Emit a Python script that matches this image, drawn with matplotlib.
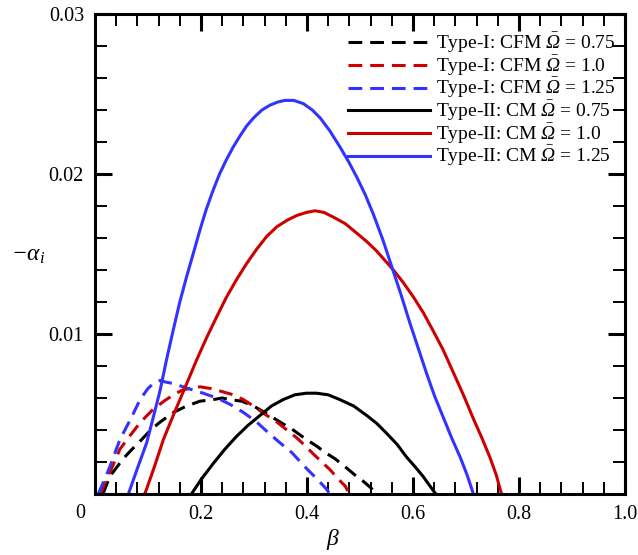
import matplotlib

matplotlib.use("Agg")
import matplotlib.pyplot as plt
from matplotlib.ticker import MultipleLocator

plt.rcParams["font.family"] = ["Liberation Serif", "DejaVu Serif"]
plt.rcParams["mathtext.fontset"] = "custom"
plt.rcParams["mathtext.rm"] = "Liberation Serif:italic"
plt.rcParams["mathtext.it"] = "Liberation Serif:italic"
plt.rcParams["mathtext.bf"] = "Liberation Serif:bold"
plt.rcParams["font.size"] = 14.5

# --- values (beta, -alpha_i) ---
# Type-I: CFM
beta_cfm_075 = [0.015, 0.028, 0.053, 0.070, 0.088, 0.105, 0.123, 0.148, 0.173,
                0.198, 0.223, 0.240, 0.255, 0.277, 0.299, 0.320, 0.349, 0.374,
                0.399, 0.418, 0.434, 0.453, 0.472, 0.490, 0.506, 0.520, 0.531]
ai_cfm_075 = [0.0, 0.0011, 0.0022, 0.0028, 0.0034, 0.0040, 0.0045, 0.0051, 0.0055,
              0.0058, 0.0059, 0.0060, 0.0059, 0.0058, 0.0055, 0.0051, 0.0045, 0.0040,
              0.0034, 0.0030, 0.0026, 0.0022, 0.0017, 0.0012, 0.0008, 0.0004, 0.0]

beta_cfm_100 = [0.010, 0.030, 0.047, 0.065, 0.079, 0.095, 0.110, 0.130, 0.148,
                0.165, 0.179, 0.198, 0.217, 0.240, 0.261, 0.280, 0.299, 0.320,
                0.343, 0.362, 0.381, 0.397, 0.412, 0.428, 0.444, 0.460, 0.472, 0.480]
ai_cfm_100 = [0.0, 0.0015, 0.0028, 0.0036, 0.0042, 0.0048, 0.0053, 0.0058, 0.0062,
              0.0065, 0.0066, 0.0067, 0.0066, 0.0064, 0.0062, 0.0059, 0.0055, 0.0050,
              0.0045, 0.0040, 0.0035, 0.0030, 0.0025, 0.0020, 0.0015, 0.0009, 0.0005,
              0.0]

beta_cfm_125 = [0.006, 0.018, 0.028, 0.047, 0.058, 0.069, 0.085, 0.100, 0.110,
                0.116, 0.123, 0.133, 0.148, 0.175, 0.204, 0.230, 0.255, 0.280,
                0.305, 0.328, 0.349, 0.371, 0.399, 0.420, 0.437, 0.443]
ai_cfm_125 = [0.0, 0.0009, 0.0017, 0.0034, 0.0041, 0.0048, 0.0059, 0.0066, 0.0069,
              0.0070, 0.0071, 0.0070, 0.0069, 0.0066, 0.0063, 0.0060, 0.0056, 0.0051,
              0.0045, 0.0038, 0.0032, 0.0026, 0.0016, 0.0009, 0.0003, 0.0]

# Type-II: CM
beta_cm_075 = [0.182, 0.200, 0.223, 0.245, 0.267, 0.289, 0.311, 0.333, 0.355,
               0.377, 0.399, 0.418, 0.440, 0.462, 0.488, 0.513, 0.532, 0.550,
               0.570, 0.588, 0.604, 0.619, 0.632, 0.643]
ai_cm_075 = [0.0, 0.0009, 0.0019, 0.0028, 0.0036, 0.0043, 0.0049, 0.0055, 0.0059,
             0.0062, 0.0063, 0.0063, 0.0062, 0.0059, 0.0055, 0.0049, 0.0044, 0.0038,
             0.0031, 0.0023, 0.0017, 0.0011, 0.0005, 0.0]

beta_cm_100 = [0.094, 0.111, 0.129, 0.150, 0.173, 0.192, 0.211, 0.230, 0.248,
               0.267, 0.286, 0.305, 0.324, 0.343, 0.362, 0.380, 0.399, 0.415,
               0.432, 0.450, 0.472, 0.494, 0.512, 0.531, 0.547, 0.563, 0.582,
               0.601, 0.620, 0.638, 0.657, 0.676, 0.695, 0.714, 0.730, 0.745,
               0.757, 0.767]
ai_cm_100 = [0.0, 0.0016, 0.0034, 0.0051, 0.0069, 0.0084, 0.0098, 0.0111, 0.0123,
             0.0134, 0.0144, 0.0153, 0.0161, 0.0167, 0.0171, 0.0174, 0.0176, 0.0177,
             0.0176, 0.0173, 0.0169, 0.0163, 0.0158, 0.0152, 0.0146, 0.0140, 0.0132,
             0.0123, 0.0113, 0.0102, 0.0090, 0.0076, 0.0062, 0.0047, 0.0035, 0.0023,
             0.0012, 0.0]

beta_cm_125 = [0.063, 0.080, 0.0975, 0.110, 0.123, 0.135, 0.148, 0.160, 0.173,
               0.186, 0.198, 0.210, 0.223, 0.235, 0.248, 0.261, 0.274, 0.286,
               0.299, 0.315, 0.330, 0.345, 0.358, 0.375, 0.393, 0.410, 0.425,
               0.443, 0.462, 0.478, 0.494, 0.510, 0.525, 0.543, 0.560, 0.577,
               0.594, 0.610, 0.626, 0.641, 0.657, 0.673, 0.689, 0.702, 0.714]
ai_cm_125 = [0.0, 0.0016, 0.0032, 0.0048, 0.0065, 0.0084, 0.0103, 0.0120, 0.0136,
             0.0151, 0.0165, 0.0178, 0.0190, 0.0200, 0.0209, 0.0217, 0.0224, 0.0230,
             0.0235, 0.0240, 0.0243, 0.0245, 0.0246, 0.0246, 0.0244, 0.0240, 0.0235,
             0.0227, 0.0217, 0.0208, 0.0198, 0.0187, 0.0175, 0.0159, 0.0142, 0.0125,
             0.0107, 0.0091, 0.0075, 0.0061, 0.0048, 0.0035, 0.0023, 0.0012, 0.0]

x_ticks = [0.2, 0.4, 0.6, 0.8, 1.0]
x_ticklabels = ["0.2", "0.4", "0.6", "0.8", "1.0"]
y_ticks = [0.01, 0.02, 0.03]
y_ticklabels = ["0.01", "0.02", "0.03"]

BLACK = "#000000"
RED = "#cc0000"
BLUE = "#3333ff"
OM = r"$\bar{\Omega}$"

W, H = 638, 555
fig = plt.figure(figsize=(W / 100, H / 100), dpi=100)
ax = fig.add_axes([95 / W, 61 / H, 530 / W, 480 / H])

lw = 2.2
dash = (4.5, 2.6)
ax.plot(beta_cfm_075, ai_cfm_075, color=BLACK, lw=lw, dashes=dash,
        label=f"Type-I: CFM {OM} = 0.75")
ax.plot(beta_cfm_100, ai_cfm_100, color=RED, lw=lw, dashes=dash,
        label=f"Type-I: CFM {OM} = 1.0")
ax.plot(beta_cfm_125, ai_cfm_125, color=BLUE, lw=lw, dashes=dash,
        label=f"Type-I: CFM {OM} = 1.25")
ax.plot(beta_cm_075, ai_cm_075, color=BLACK, lw=lw, label=f"Type-II: CM {OM} = 0.75")
ax.plot(beta_cm_100, ai_cm_100, color=RED, lw=lw, label=f"Type-II: CM {OM} = 1.0")
ax.plot(beta_cm_125, ai_cm_125, color=BLUE, lw=lw, label=f"Type-II: CM {OM} = 1.25")

ax.set_xlim(0, 1.0)
ax.set_ylim(0, 0.03)
ax.set_xticks(x_ticks)
ax.set_xticklabels(x_ticklabels)
ax.set_yticks(y_ticks)
ax.set_yticklabels(y_ticklabels)
ax.xaxis.set_minor_locator(MultipleLocator(0.04))
ax.yaxis.set_minor_locator(MultipleLocator(0.002))
ax.tick_params(which="both", direction="in", top=True, right=True)
ax.tick_params(which="major", length=12.5, width=2.2, pad=8)
ax.tick_params(which="minor", length=8.4, width=1.4)
for s in ax.spines.values():
    s.set_linewidth(2.2)

# origin label sits left of the corner
fig.text(80 / W, 1 - 513 / H, "0", ha="center", va="center")
fig.text(333 / W, 1 - 540 / H, r"$\beta$", ha="center", va="center", fontsize=17)
fig.text(28 / W, 1 - 256 / H, r"$-\alpha_i$", ha="center", va="center", fontsize=17)

ax.legend(loc="upper left", bbox_to_anchor=(348 / W, 1 - 31 / H),
          bbox_transform=fig.transFigure, frameon=False, fontsize=14,
          handlelength=4.2, handletextpad=0.3, labelspacing=-0.08, borderpad=0,
          borderaxespad=0)

fig.savefig("out.png", dpi=100)
